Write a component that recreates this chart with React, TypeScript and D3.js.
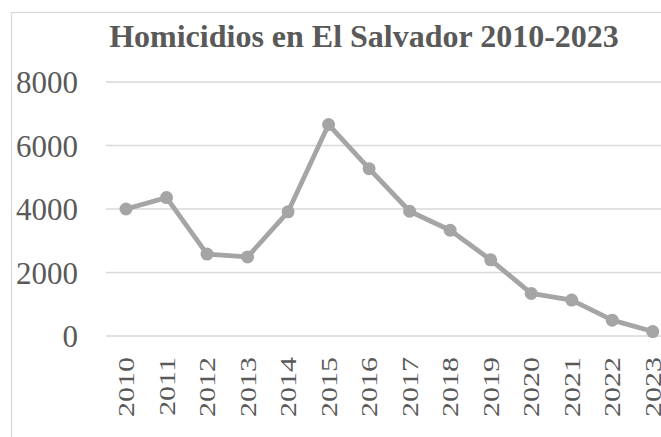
import React from "react";
import * as d3 from "d3";

const years = ["2010", "2011", "2012", "2013", "2014", "2015", "2016", "2017", "2018", "2019", "2020", "2021", "2022", "2023"];
const homicides = [4000, 4360, 2580, 2490, 3910, 6660, 5270, 3930, 3330, 2400, 1340, 1130, 500, 140];
const yTicks = [0, 2000, 4000, 6000, 8000];
const title = "Homicidios en El Salvador 2010-2023";

const width = 661;
const height = 437;
const font = "'Liberation Serif', 'Times New Roman', serif";
const textColor = "#595959";
const gridColor = "#d9d9d9";
const lineColor = "#a5a5a5";

const App = () => {
    // plot area runs past the right edge, like the cropped original
    const x = d3.scaleBand<string>().domain(years).range([105.75, 673]);
    const y = d3.scaleLinear().domain([0, 8000]).range([336, 82]);

    const cx = (d: string) => (x(d) ?? 0) + x.bandwidth() / 2;

    const line = d3
        .line<number>()
        .x((d, i) => cx(years[i]))
        .y(d => y(d));

    return (
        <svg
            width={width}
            height={height}
            style={{position: "absolute", left: 0, top: 0, background: "#fff"}}
        >
            <rect x={11.5} y={12.5} width={800} height={600} fill="#fff" stroke={gridColor} strokeWidth={1.3} />

            <text
                x={364}
                y={46.5}
                textAnchor="middle"
                fontFamily={font}
                fontWeight="bold"
                fontSize={32}
                fill={textColor}
            >
                {title}
            </text>

            {/* gridlines */}
            {yTicks.map(t => (
                <line
                    key={t}
                    x1={106}
                    x2={width + 20}
                    y1={y(t)}
                    y2={y(t)}
                    stroke={gridColor}
                    strokeWidth={1.3}
                />
            ))}

            {/* y labels */}
            {yTicks.map(t => (
                <text
                    key={"l" + t}
                    x={78}
                    y={y(t) + 11}
                    textAnchor="end"
                    fontFamily={font}
                    fontSize={31}
                    fill={textColor}
                >
                    {t}
                </text>
            ))}

            {/* x labels, narrow rotated text as in the original */}
            {years.map(yr => (
                <text
                    key={yr}
                    transform={`translate(${cx(yr) + 8}, 357) rotate(-90) scale(1, 0.8)`}
                    textAnchor="end"
                    fontFamily={font}
                    fontSize={30}
                    fill={textColor}
                >
                    {yr}
                </text>
            ))}

            <path d={line(homicides) ?? ""} fill="none" stroke={lineColor} strokeWidth={4.8} strokeLinejoin="round" />

            {homicides.map((v, i) => (
                <circle key={i} cx={cx(years[i])} cy={y(v)} r={6.5} fill={lineColor} />
            ))}
        </svg>
    );
};

export default App;
